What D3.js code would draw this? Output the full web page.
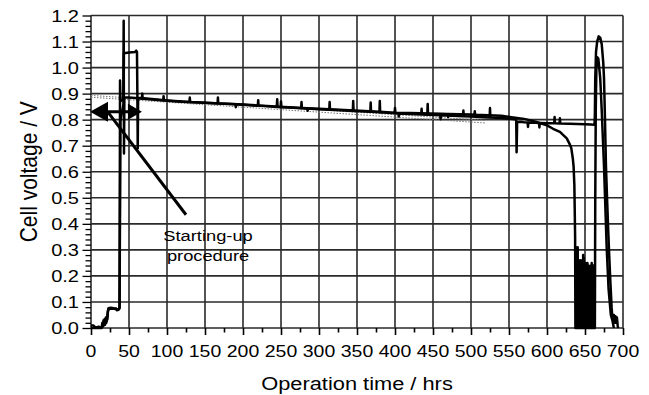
<!DOCTYPE html>
<html><head><meta charset="utf-8">
<script src="https://cdn.jsdelivr.net/npm/d3@7"></script>
<style>body{margin:0;background:#fff}svg{display:block}</style>
</head><body>
<svg id="c" width="649" height="395"></svg>
<script>
const xTicks = [0,50,100,150,200,250,300,350,400,450,500,550,600,650,700];
const yTicks = [0.0,0.1,0.2,0.3,0.4,0.5,0.6,0.7,0.8,0.9,1.0,1.1,1.2];
const xTitle = "Operation time / hrs";
const yTitle = "Cell voltage / V";
const noteLines = ["Starting-up","procedure"];

const seriesA = [
[0,0.01],[3,0.01],[5,0.004],[8,0.0],[12,0.0],[14,0.002],[15,0.02],[15.5,0.005],[16.5,0.03],[17,0.01],[18,0.035],[18.5,0.012],[19.5,0.04],[20,0.02],[21,0.03],[22,0.06],[23,0.076],[26,0.078],[30,0.076],[33,0.075],[34,0.068],[36,0.07],[37,0.075],[37.6,0.08],[38.2,0.95],[38.8,0.87],[42.5,0.88],[43,1.18],[43.4,0.67],[43.9,0.885],
[50,0.885],[62,0.882],[67,0.88],[67.5,0.9],[68,0.88],[80,0.877],[95,0.874],[95.5,0.89],[96,0.874],[100,0.873],[120,0.869],[143,0.866],[166.5,0.862],[167,0.885],[167.5,0.862],[190,0.859],[190.5,0.848],[191,0.859],[200,0.857],[219.5,0.853],[220,0.875],[220.5,0.853],[230,0.852],[244.5,0.849],[245,0.878],[245.5,0.849],[249.5,0.848],[250,0.87],[250.5,0.848],[260,0.847],[276.5,0.844],[277,0.868],[277.5,0.844],[300,0.84],[313.5,0.838],[314,0.868],[314.5,0.838],[340,0.834],[344.5,0.833],[345,0.872],[345.5,0.833],[367.5,0.83],[368,0.866],[368.5,0.83],[379.5,0.828],[380,0.872],[380.5,0.828],[404.5,0.824],[405,0.812],[405.5,0.824],[420,0.822],[434.5,0.82],[435,0.842],[435.5,0.82],[442.5,0.819],[443,0.86],[443.5,0.819],[459.5,0.817],[460,0.802],[460.5,0.817],[489.5,0.813],[490,0.835],[490.5,0.813],[500,0.812],[524.5,0.808],[525,0.845],[525.5,0.808],[540,0.806],[558,0.802],[559.5,0.80],[560,0.675],[560.7,0.79],[565,0.792],[570,0.79],[574.5,0.789],[575,0.772],[575.5,0.789],[585,0.788],[589.5,0.787],[590,0.77],[590.5,0.787],[600,0.786],[609.5,0.786],[610,0.81],[610.5,0.786],[616.5,0.785],[617,0.805],[617.5,0.785],[630,0.784],[640,0.783],[650,0.782],[658,0.781],[662.5,0.78],
[663,0.82],[663.5,0.96],[664.5,1.06],[666,1.1],[668,1.12],[670,1.115],[672,1.09],[674,1.02],[675,0.96],[676,0.84],[677.6,0.62],[679,0.5],[680.5,0.38],[682,0.27],[683.5,0.17],[685,0.08],[686,0.04],[687,0.03],[688,0.05],[689,0.02],[690,0.045],[691,0.02],[692,0.04],[693,0.01],[693.5,0.0]
];

const seriesB = [
[0,0.0],[6,0.0],[10,0.005],[14,0.0],[16,0.02],[18,0.015],[20,0.03],[21.5,0.035],[22.5,0.07],[26,0.075],[33,0.073],[36,0.07],[37.5,0.075],[38.3,0.5],[38.8,0.8],[42.8,0.86],[43.3,1.055],[50,1.058],[58,1.06],[59.5,1.065],[60.5,1.06],[61,0.9],[61.5,0.69],[62,0.884],
[80,0.879],[100,0.874],[129.5,0.868],[130,0.885],[130.5,0.868],[143,0.866],[200,0.858],[260,0.848],[284.5,0.844],[285,0.834],[285.5,0.844],[300,0.842],[340,0.836],[380,0.83],[399.5,0.827],[400,0.845],[400.5,0.827],[420,0.826],[460,0.823],[469.5,0.822],[470,0.81],[470.5,0.822],[500,0.82],[504.5,0.819],[505,0.832],[505.5,0.819],[540,0.815],[570,0.803],[585,0.792],[600,0.778],[608,0.765],[617,0.753],[626,0.728],[630,0.705],[632,0.69],[634,0.65],[635,0.62],[636,0.55],[637,0.35],[637.4,0.0],
[637.8,0.2],[638,0.31],[638.4,0.02],[638.8,0.3],[639.2,0.0],[639.6,0.27],[640,0.01],[640.4,0.31],[640.8,0.0],[641.2,0.25],[641.6,0.02],[642,0.26],[642.4,0.0],[642.8,0.24],[643.2,0.01],[643.6,0.26],[644,0.0],[644.4,0.25],[644.8,0.02],[645.2,0.23],[645.6,0.0],[646,0.26],[646.4,0.01],[646.8,0.22],[647.2,0.0],[647.6,0.28],[648,0.02],[648.4,0.27],[648.8,0.0],[649.2,0.2],[649.6,0.01],[650,0.22],[650.4,0.0],[650.8,0.25],[651.2,0.02],[651.6,0.24],[652,0.0],[652.4,0.2],[652.8,0.01],[653.2,0.25],[653.6,0.0],[654,0.23],[654.4,0.02],[654.8,0.24],[655.2,0.0],[655.6,0.22],[656,0.01],[656.4,0.18],[656.8,0.0],[657.2,0.21],[657.6,0.02],[658,0.24],[658.4,0.0],[658.8,0.25],[659.2,0.01],[659.6,0.24],[660,0.0],[660.4,0.23],[660.8,0.02],[661.2,0.24],[661.6,0.0],[662,0.2],[662.4,0.01],[662.8,0.1],[663,0.0],
[663.5,0.5],[664.2,0.85],[665,1.0],[666,1.04],[667.5,1.035],[669,0.99],[670,0.96],[672,0.836],[675,0.62],[676.5,0.49],[678.5,0.31],[681,0.15],[684,0.05],[686,0.03],[688,0.0]
];

const fitA = [[0,0.893],[520,0.797]];
const fitB = [[0,0.886],[520,0.787]];

const arrowSpan = [0, 67];
const arrowLevel = 0.83;
const pointer = [[22,0.83],[125,0.435]];
const noteAnchor = [154, 0.334, 0.259];

const svg = d3.select("#c");
const x = d3.scaleLinear().domain([0,700]).range([91,623]);
const y = d3.scaleLinear().domain([0,1.2]).range([328,15.5]);
const SX = 1.18;
const font = "'Liberation Sans', Arial, Helvetica, sans-serif";
const gridCol = "#2a2a2a";

// grid
const g = svg.append("g");
g.selectAll("line.vx").data(xTicks).join("line")
  .attr("x1", d=>x(d)).attr("x2", d=>x(d)).attr("y1", y(0)).attr("y2", y(1.2))
  .attr("stroke", gridCol).attr("stroke-width", 1.6);
g.selectAll("line.hy").data(yTicks).join("line")
  .attr("x1", x(0)).attr("x2", x(700)).attr("y1", d=>y(d)).attr("y2", d=>y(d))
  .attr("stroke", gridCol).attr("stroke-width", 1.6);

// axes ticks
const xAxis = d3.axisBottom(x).tickValues(d3.range(0,701,25)).tickSize(0).tickFormat("");
const ax = svg.append("g").attr("transform", `translate(0,${y(0)})`).call(xAxis);
ax.select(".domain").remove();
ax.selectAll(".tick line").attr("y2", d => d%50===0 ? 7 : 4.5).attr("stroke","#000").attr("stroke-width",1.6);
const yAxis = d3.axisLeft(y).tickValues(d3.range(0,61).map(i=>i*0.02)).tickSize(0).tickFormat("");
const ay = svg.append("g").attr("transform", `translate(${x(0)},0)`).call(yAxis);
ay.select(".domain").remove();
ay.selectAll(".tick line").attr("x2", (d,i) => i%5===0 ? -8.5 : -5.5).attr("stroke","#000").attr("stroke-width",1.3);

// tick labels
svg.selectAll("text.xt").data(xTicks).join("text")
  .attr("transform", d=>`translate(${x(d)},${y(0)+29}) scale(${SX},1)`)
  .attr("text-anchor","middle").attr("font-family",font).attr("font-size",16.5).attr("fill","#000")
  .text(d=>d);
svg.selectAll("text.yt").data(yTicks).join("text")
  .attr("transform", d=>`translate(79,${y(d)+6}) scale(${SX},1)`)
  .attr("text-anchor","end").attr("font-family",font).attr("font-size",17).attr("fill","#000")
  .text(d=>d.toFixed(1));

// axis titles
svg.append("text").attr("transform", `translate(${x(350)},${390}) scale(${SX},1)`)
  .attr("text-anchor","middle").attr("font-family",font).attr("font-size",18.5).text(xTitle);
svg.append("text").attr("transform", `translate(37,${y(0.6)}) scale(${SX},1) rotate(-90)`)
  .attr("text-anchor","middle").attr("font-family",font).attr("font-size",21).text(yTitle);

// fit lines
const line = d3.line().x(d=>x(d[0])).y(d=>y(d[1]));
[fitA, fitB].forEach(f => svg.append("path").attr("d", line(f)).attr("fill","none")
  .attr("stroke","#777").attr("stroke-width",1).attr("stroke-dasharray","1.5,1.5"));

// data
[seriesB, seriesA].forEach(s => svg.append("path").attr("d", line(s)).attr("fill","none")
  .attr("stroke","#000").attr("stroke-width",2.5).attr("stroke-linejoin","round"));

// annotation: double arrow
const ay0 = y(arrowLevel), axL = x(arrowSpan[0]) - 1, axR = x(arrowSpan[1]);
svg.append("line").attr("x1", axL+10).attr("x2", axR-8).attr("y1", ay0).attr("y2", ay0)
  .attr("stroke","#000").attr("stroke-width",3);
svg.append("path").attr("d", `M${axL},${ay0} L${axL+18},${ay0-10} L${axL+18},${ay0+10} Z`).attr("fill","#000");
svg.append("path").attr("d", `M${axR},${ay0} L${axR-14},${ay0-8} L${axR-14},${ay0+8} Z`).attr("fill","#000");
svg.append("line").attr("x1", x(pointer[0][0])).attr("y1", y(pointer[0][1]))
  .attr("x2", x(pointer[1][0])).attr("y2", y(pointer[1][1]))
  .attr("stroke","#000").attr("stroke-width",3);
noteLines.forEach((t,i) => svg.append("text")
  .attr("transform", `translate(${x(noteAnchor[0])},${y(noteAnchor[1+i])}) scale(${SX},1)`)
  .attr("text-anchor","middle").attr("font-family",font).attr("font-size",15.5).text(t));
</script>
</body></html>
